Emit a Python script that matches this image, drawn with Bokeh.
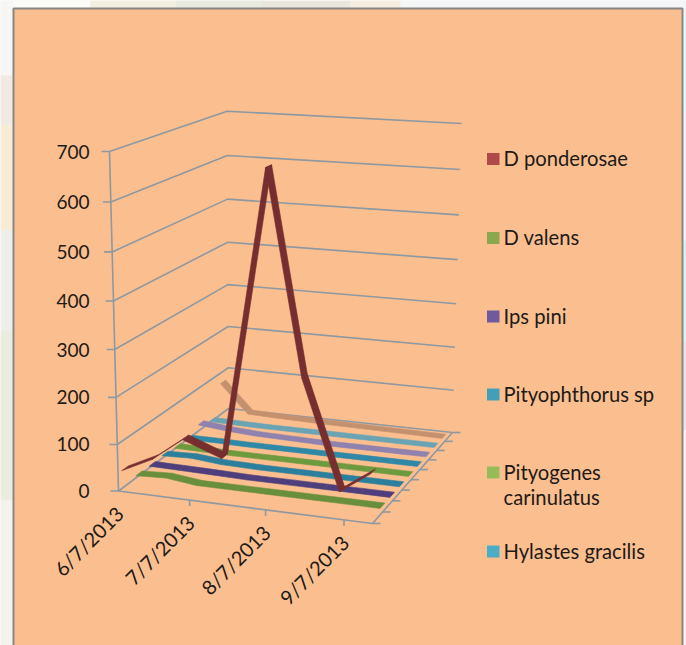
import numpy as np
from bokeh.plotting import figure
from bokeh.models import Range1d
from bokeh.core.properties import value
from bokeh.embed import file_html
from bokeh.resources import INLINE

# ---- data ----
dates = ["6/7/2013", "7/7/2013", "8/7/2013", "9/7/2013"]
date_days = [0, 30, 61, 92]
sample_days = [0, 13, 26, 42, 60, 74, 89, 101]
y_ticks = [0, 100, 200, 300, 400, 500, 600, 700]
legend_names = ["D ponderosae", "D valens", "Ips pini", "Pityophthorus sp", "Pityogenes\ncarinulatus", "Hylastes gracilis"]
legend_colors = ["#B0494A", "#8BA84F", "#6F5A9C", "#429FB8", "#98BB5A", "#4BACC6"]
d_ponderosae = [38, 70, 120, 90, 685, 275, 50, 95]
d_valens = [5, 8, 0, 0, 0, 0, 0, 0]
ips_pini = [4, 3, 2, 0, 0, 0, 0, 0]
pityophthorus = [6, 8, 2, 0, 0, 0, 0, 0]
pityogenes = [2, 1, 0, 0, 0, 0, 0, 0]
hylastes = [1, 1, 0, 0, 0, 0, 0, 0]
unnamed_a = [15, 8, 4, 2, 0, 0, 0, 0]
unnamed_b = [3, 1, 0, 0, 0, 0, 0, 0]
unnamed_c = [75, 8, 6, 4, 3, 2, 1, 0]
series = [d_ponderosae, d_valens, ips_pini, pityophthorus, pityogenes, hylastes, unnamed_a, unnamed_b, unnamed_c]
ribbon_colors = ["#772E2F", "#6A8F3C", "#4E3F7C", "#2C7F9C", "#6D9A3F", "#2F88A6", "#8F82AE", "#6AA3B4", "#C4916F"]

# ---- projection of the Excel 3-D box ----
DAY_MAX, VAL_MAX, ROWS = 103.0, 700.0, 9
floor_c = [(118, 490.5), (372, 523), (452, 432), (228, 408)]
top_c = [(109, 151), (378, 168), (461, 123), (226.6, 110.7)]
PERSP = 1.05
RIBBON = 0.48

def homography(c):
    s = [(0, 0), (1, 0), (1, 1), (0, 1)]
    A, b = [], []
    for (u, v), (x, y) in zip(s, c):
        A.append([u, v, 1, 0, 0, 0, -u * x, -v * x]); b.append(x)
        A.append([0, 0, 0, u, v, 1, -u * y, -v * y]); b.append(y)
    return np.append(np.linalg.solve(np.array(A, float), np.array(b, float)), 1).reshape(3, 3)

HF, HT = homography(floor_c), homography(top_c)

def ap(H, u, v):
    x = H @ np.array([u, v, 1.0])
    return x[:2] / x[2]

def project(day, row, val):
    u, v = day / DAY_MAX, row / ROWS
    t = val / VAL_MAX
    f = t / (t + PERSP * (1 - t)) if t < 1 else 1.0
    a, b = ap(HF, u, v), ap(HT, u, v)
    return a + (b - a) * f

p = figure(width=686, height=645, x_range=Range1d(0, 686), y_range=Range1d(645, 0),
           output_backend="svg", toolbar_location=None, min_border=0,
           x_axis_type=None, y_axis_type=None, margin=(0, 0, 0, 0))
p.grid.visible = False
p.outline_line_color = None
p.background_fill_color = "#F6F5EF"
p.border_fill_color = "#F6F5EF"

# blurred photo behind the panel
top_x = [[0, 90], [90, 175], [175, 260], [260, 350], [350, 400], [400, 686]]
top_col = ["#FBFBF8", "#F2EFE0", "#E8EADE", "#E9E6DC", "#F6EDE0", "#F5F6F7"]
for (a, b), c in zip(top_x, top_col):
    p.quad(left=a, right=b, top=0, bottom=8, fill_color=c, line_color=None)
left_y = [[0, 75], [75, 125], [125, 230], [230, 330], [330, 500], [500, 645]]
left_col = ["#F6F6F4", "#F2EAE2", "#F8ECD6", "#EDF0EA", "#EAECE0", "#F3F2EC"]
for (a, b), c in zip(left_y, left_col):
    p.quad(left=0, right=12, top=a, bottom=b, fill_color=c, line_color=None)
right_y = [[0, 110], [110, 240], [240, 340], [340, 430], [430, 645]]
right_col = ["#F0F5F8", "#F5F4F4", "#E6EEE8", "#E8E4E0", "#FBF4E6"]
for (a, b), c in zip(right_y, right_col):
    p.quad(left=683, right=686, top=a, bottom=b, fill_color=c, line_color=None)

# panel
p.quad(left=13, right=682, top=8, bottom=660, fill_color="#FBBF8F", line_color="#868686", line_width=2)

GRID = "#8D98A2"
def seg(a, b, w=1.6):
    p.line([a[0], b[0]], [a[1], b[1]], line_color=GRID, line_width=w)

# walls
for t in y_ticks:
    a, b, c = project(0, 0, t), project(0, ROWS, t), project(DAY_MAX, ROWS, t)
    p.line([a[0], b[0], c[0]], [a[1], b[1], c[1]], line_color=GRID, line_width=1.6)
    seg(a, a + np.array([-8, 0]))
    p.text([89], [a[1]], text=[str(t)], text_align="right", text_baseline="middle",
           text_font=value("Lato"), text_font_size="19px", text_color="#1E1A18")
seg(project(0, 0, 0), project(0, 0, VAL_MAX))
seg(project(0, 0, 0), project(DAY_MAX, 0, 0))
seg(project(DAY_MAX, 0, 0), project(DAY_MAX, ROWS, 0))

# date axis
for d, lab in zip(date_days, dates):
    a = project(d, 0, 0)
    if d > 0:
        seg(a, a + np.array([0, 6]))
    p.text([a[0] + 1], [a[1] + 19], text=[lab], angle=np.pi / 4, text_align="right", text_baseline="middle",
           text_font=value("Lato"), text_font_size="20px", text_color="#1E1A18")
# depth axis
for k in range(ROWS + 1):
    a = project(DAY_MAX, k, 0)
    seg(a, a + np.array([8, 0]))

# ribbons, back row first
for row in range(ROWS - 1, -1, -1):
    vals = series[row]
    for i in range(len(vals) - 1):
        r0, r1 = row + 0.5 - RIBBON / 2, row + 0.5 + RIBBON / 2
        q = [project(sample_days[i], r0, vals[i]), project(sample_days[i + 1], r0, vals[i + 1]),
             project(sample_days[i + 1], r1, vals[i + 1]), project(sample_days[i], r1, vals[i])]
        p.patch([c[0] for c in q], [c[1] for c in q], fill_color=ribbon_colors[row],
                line_color=ribbon_colors[row], line_width=0.6)

# legend
legend_y = [158.5, 237.5, 316, 394, 472, 551]
for name, col, y in zip(legend_names, legend_colors, legend_y):
    p.quad(left=486.5, right=499, top=y - 6, bottom=y + 6, fill_color=col, line_color=None)
    for j, line in enumerate(name.split("\n")):
        p.text([503], [y - 1 + j * 25], text=[line], text_align="left", text_baseline="middle",
               text_font=value("Lato"), text_font_size="20.2px", text_color="#1E1A18")

open("out.html", "w").write(file_html(p, INLINE))
